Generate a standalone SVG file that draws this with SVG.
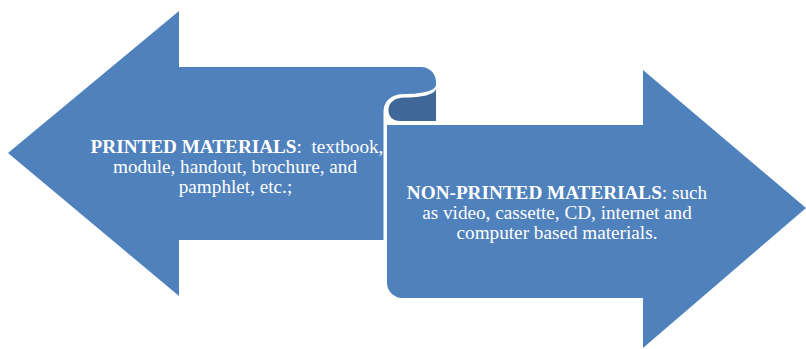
<svg xmlns="http://www.w3.org/2000/svg" width="806" height="349" viewBox="0 0 806 349">
<style>
.arrow{fill:#4F81BD}
.fold{fill:#3F6899}
.t{font-family:"Liberation Serif","Times New Roman",serif;font-size:19.2px;fill:#FFFFFF;text-anchor:middle}
.b{font-weight:bold}
</style>
<rect width="806" height="349" fill="#FFFFFF"/>
<g id="non-printed">
<path class="arrow" d="M387,125 L643,125 L643,70 L806,208 L643,348 L643,298 L402,298 C394,298 387,291 387,283 Z"/>
<text class="t" x="557" y="199"><tspan class="b">NON-PRINTED MATERIALS</tspan>: such</text>
<text class="t" x="557" y="219">as video, cassette, CD, internet and</text>
<text class="t" x="557" y="239">computer based materials.</text>
</g>
<g id="fold">
<path class="fold" d="M436,88 C436,95 420,97.5 405,97.5 C394,97.5 388.5,103 388.5,110 C388.5,117 393,121 400,121 L436,121 Z"/>
</g>
<g id="printed">
<path class="arrow" d="M8,153 L179,11 L179,67 L421,67 C430,67 436,74 436,82 L436,85 C436,91 420,94 405,94 C391,94 383.5,101 383.5,112 L383.5,240 L179,240 L179,296 Z"/>
<text class="t" x="237" y="153" xml:space="preserve"><tspan class="b">PRINTED MATERIALS</tspan>:  textbook,</text>
<text class="t" x="235" y="173">module, handout, brochure, and</text>
<text class="t" x="235.5" y="193">pamphlet, etc.;</text>
</g>
</svg>
